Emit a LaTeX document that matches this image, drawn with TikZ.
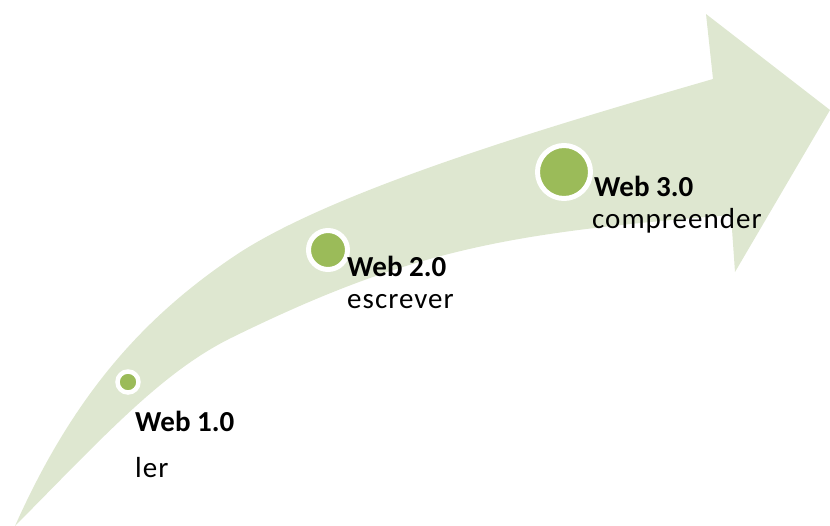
\documentclass[tikz,border=0pt]{standalone}
\usepackage{fontspec}
\setmainfont{Carlito}
\newfontfamily\spacedfont[LetterSpace=3.5]{Carlito}
\definecolor{bandgreen}{RGB}{222,231,208}
\definecolor{dotgreen}{RGB}{155,187,89}
\begin{document}
\begin{tikzpicture}[x=1pt,y=-1pt,
  stage/.style={circle,inner sep=0pt,draw=white,fill=dotgreen,line width=#1},
  stage/.default=5pt,
  title/.style={anchor=base west,inner sep=0pt,font=\fontsize{29}{35}\selectfont\bfseries},
  verb/.style={anchor=base west,inner sep=0pt,font=\spacedfont\fontsize{29}{35}\selectfont}]
\useasboundingbox (0,0) rectangle (830,525);
\clip (0,0) rectangle (830,525);
% curved upward arrow: upper edge, head, lower edge back to the tail
\fill[bandgreen]
  (15,526) .. controls (73.5,395) and (143,318) .. (233,257)
           .. controls (333,189) and (563,122.5) .. (713,79)
  -- (706,14) -- (830,110) -- (735,272) -- (731,215)
  .. controls (511,232.6) and (413,248.8) .. (233,337)
  .. controls (163,371) and (105,435) .. (15,526)
  -- cycle;
% stage markers
\node[stage=4.5pt,minimum size=21pt] (s1) at (128,382) {};
\node[stage=5pt,minimum size=39pt] (s2) at (328,250) {};
\node[stage=5pt,minimum size=53pt] (s3) at (564,172) {};
% labels
\node[title] (t1) at (135,431) {Web 1.0};
\node[verb] (v1) at (135,477) {ler};
\node[title] (t2) at (347,276.5) {Web 2.0};
\node[verb] (v2) at (347,308) {escrever};
\node[title] (t3) at (594,196) {Web 3.0};
\node[verb] (v3) at (592,228) {compreender};
\end{tikzpicture}
\end{document}
